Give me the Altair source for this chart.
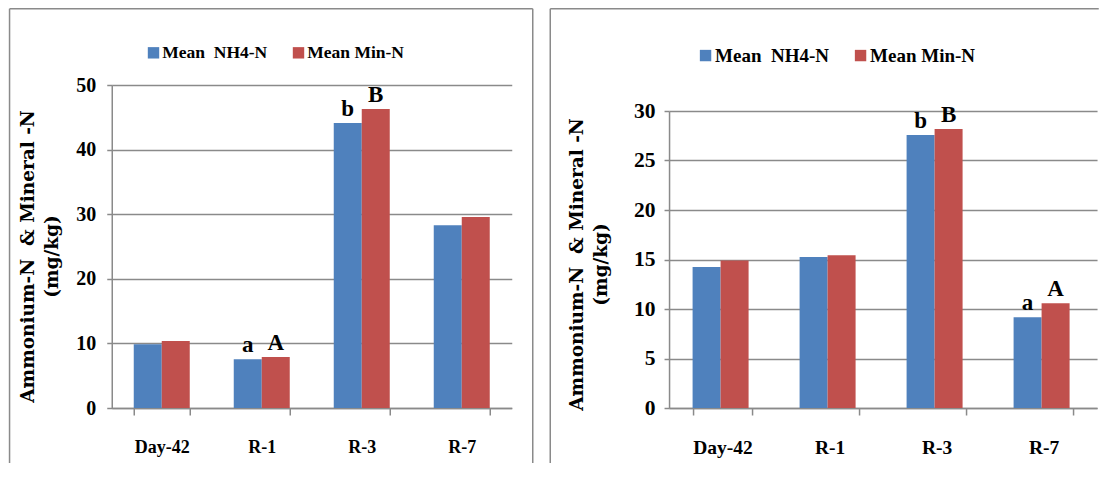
import altair as alt
import pandas as pd

# ---------------- data ----------------
categories = ["Day-42", "R-1", "R-3", "R-7"]
series = ["Mean\u00a0 NH4-N", "Mean Min-N"]

left_nh4 = [9.87, 7.55, 44.1, 28.3]
left_min = [10.38, 7.9, 46.28, 29.55]
left_nh4_letters = ["", "a", "b", ""]
left_min_letters = ["", "A", "B", ""]

right_nh4 = [14.23, 15.24, 27.57, 9.17]
right_min = [14.9, 15.44, 28.18, 10.59]
right_nh4_letters = ["", "", "b", "a"]
right_min_letters = ["", "", "B", "A"]

y_title = ["Ammonium-N\u00a0 & Mineral -N", "(mg/kg)"]

BLUE = "#4F81BD"
RED = "#C0504D"
GRAY = "#8a8a8a"
SERIF = "Liberation Serif"
TITLE_FONT = "DejaVu Serif"


def make_df(nh4, mn, l1, l2):
    rows = []
    for i, c in enumerate(categories):
        rows.append({"category": c, "series": series[0], "value": nh4[i], "letter": l1[i]})
        rows.append({"category": c, "series": series[1], "value": mn[i], "letter": l2[i]})
    return pd.DataFrame(rows)


def panel(df, W, H, ytop, ymax, step, tick_fs, cat_fs, leg_fs, leg_x, leg_y,
          title_x, title_y, ylab_pad, bx0, by0, bx1, by1, right_border):
    xscale = alt.Scale(paddingInner=0.44, paddingOuter=0.22)
    x = alt.X("category:N", sort=categories, scale=xscale,
              axis=alt.Axis(title=None, labelAngle=0, labelFont=SERIF,
                            labelFontWeight="bold", labelFontSize=cat_fs,
                            labelColor="black", domainColor=GRAY, domainWidth=1.5,
                            tickColor=GRAY, tickWidth=1.5, tickSize=7,
                            tickBand="extent", labelPadding=23, grid=False))
    y = alt.Y("value:Q",
              scale=alt.Scale(domain=[0, ymax], nice=False, zero=True, range=[H, ytop]),
              axis=alt.Axis(values=list(range(0, ymax + 1, step)), title=y_title,
                            titleFont=TITLE_FONT, titleFontWeight="bold",
                            titleFontSize=18.5, titleColor="black", titleAngle=270,
                            titleX=title_x, titleY=title_y,
                            titleBaseline="alphabetic", titleAlign="center",
                            titleLineHeight=24,
                            labelFont=SERIF, labelFontWeight="bold",
                            labelFontSize=tick_fs, labelColor="black",
                            labelPadding=ylab_pad, tickSize=5, tickColor=GRAY,
                            tickWidth=1.5, domainColor=GRAY, domainWidth=1.5,
                            grid=True, gridColor=GRAY, gridWidth=1.6))
    xoff = alt.XOffset("series:N", sort=series,
                       scale=alt.Scale(paddingInner=0, paddingOuter=0))
    color = alt.Color("series:N", sort=series,
                      scale=alt.Scale(domain=series, range=[BLUE, RED]),
                      legend=alt.Legend(orient="none", legendX=leg_x, legendY=leg_y,
                                        direction="horizontal", title=None,
                                        symbolType="square", symbolSize=130,
                                        symbolStrokeWidth=0, labelFont=SERIF,
                                        labelFontWeight="bold", labelFontSize=leg_fs,
                                        labelColor="black", labelOffset=0,
                                        columnPadding=22, padding=0))
    bars = alt.Chart(df).mark_bar().encode(x=x, xOffset=xoff, y=y, color=color)
    text = alt.Chart(df).mark_text(font=SERIF, fontWeight="bold", fontSize=23,
                                   baseline="alphabetic", dy=-7, color="black").encode(
        x=alt.X("category:N", sort=categories),
        xOffset=alt.XOffset("series:N", sort=series),
        y="value:Q",
        text="letter:N")
    one = alt.Data(values=[{"k": 1}])
    lines = [
        alt.Chart(one).mark_rule(color=GRAY, strokeWidth=1.5).encode(
            x=alt.value(bx0), y=alt.value(by0), y2=alt.value(by1)),
        alt.Chart(one).mark_rule(color=GRAY, strokeWidth=1.5).encode(
            x=alt.value(bx0), x2=alt.value(bx1), y=alt.value(by0)),
    ]
    if right_border:
        lines.append(alt.Chart(one).mark_rule(color=GRAY, strokeWidth=1.5).encode(
            x=alt.value(bx1), y=alt.value(by0), y2=alt.value(by1)))
    return alt.layer(bars, text, *lines).properties(width=W, height=H)


left = panel(make_df(left_nh4, left_min, left_nh4_letters, left_min_letters),
             W=400, H=323, ytop=0, ymax=50, step=10, tick_fs=20, cat_fs=18, leg_fs=17.5,
             leg_x=33, leg_y=-41.3, title_x=-78.4, title_y=171, ylab_pad=11,
             bx0=-102.2, by0=-76.25, bx1=421, by1=378, right_border=True)

right = panel(make_df(right_nh4, right_min, right_nh4_letters, right_min_letters),
              W=428, H=323, ytop=26, ymax=30, step=5, tick_fs=21.5, cat_fs=19.5, leg_fs=19,
              leg_x=27, leg_y=-39.2, title_x=-86.6, title_y=179, ylab_pad=9,
              bx0=-118.8, by0=-76.25, bx1=429.7, by1=378, right_border=False)

chart = alt.hconcat(left, right, spacing=15.3).resolve_scale(
    x="independent", y="independent", color="independent"
).resolve_legend(color="independent").properties(
    padding={"left": 0.75, "top": 0, "right": 0, "bottom": 0},
    background="white",
).configure_view(stroke=None)

chart.save("out.html", embed_options={"renderer": "svg", "actions": False})
